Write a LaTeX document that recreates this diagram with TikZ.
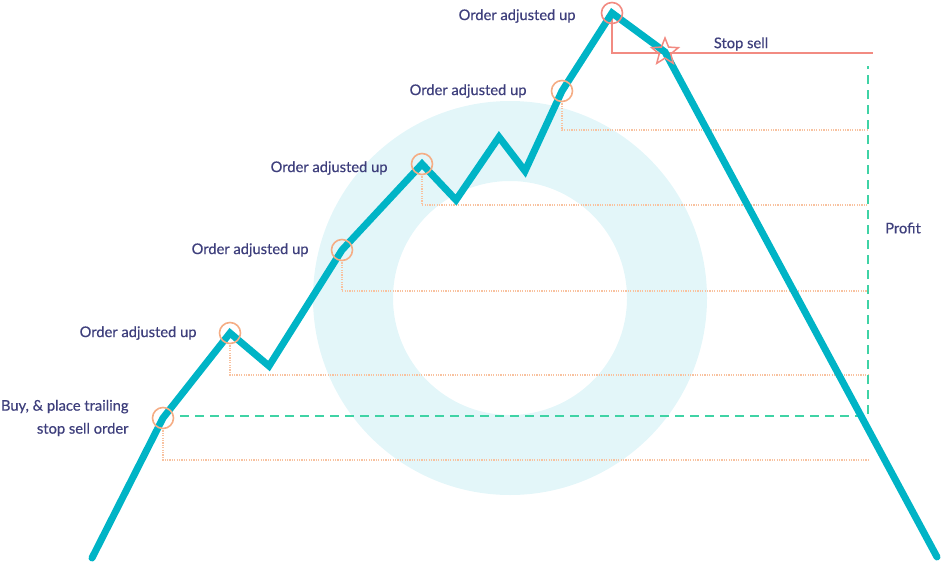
\documentclass[tikz,border=0pt]{standalone}
\usepackage{fontspec}
\setmainfont{Lato}
\newfontfamily\labelfont{Lato}[BoldFont=Lato, BoldFeatures={FakeBold=0.5}]
\usetikzlibrary{positioning}
\usetikzlibrary{shapes.geometric}

\definecolor{pricecol}{HTML}{00B4C6}
\definecolor{ringcol}{HTML}{E3F6F9}
\definecolor{ink}{HTML}{3E3F7C}
\definecolor{markcol}{HTML}{F5AD85}
\definecolor{stopcol}{HTML}{F28B82}
\definecolor{guidecol}{HTML}{F8C2A0}
\definecolor{profitcol}{HTML}{3FD3A5}

\begin{document}
\begin{tikzpicture}[x=1pt, y=-1pt,
    txt/.style={text=ink, font=\labelfont\bfseries\fontsize{14.7}{23}\selectfont, inner sep=0pt},
    marker/.style={circle, draw=markcol, line width=1.6pt, minimum size=21pt, inner sep=0pt},
    guide/.style={draw=guidecol, line width=2.2pt, dash pattern=on 1.2pt off 1.2pt},
    price/.style={draw=pricecol, line width=7pt, line join=miter, line cap=round}
]
    \useasboundingbox (0,0) rectangle (942,565);

    % ring behind the chart
    \fill [ringcol, even odd rule] (510,298) circle (197pt) (510,298) circle (117pt);

    % price path
    \coordinate (start) at (92,558);
    \coordinate (buy) at (163,418);
    \coordinate (up1) at (230,333);
    \coordinate (dip1) at (269,366);
    \coordinate (up2) at (342,250);
    \coordinate (up3) at (422,164);
    \coordinate (dip2) at (456,200);
    \coordinate (top1) at (499,137);
    \coordinate (dip3) at (525,171);
    \coordinate (up4) at (562,91);
    \coordinate (peak) at (612,13);
    \coordinate (stop) at (665,52);
    \coordinate (finish) at (937,557);

    % ends of the level lines
    \coordinate (buyline) at (180,416);
    \coordinate (profittop) at (868,66);
    \coordinate (stopend) at (873,53);
    \coordinate (g0) at (868,460);
    \coordinate (g1) at (868,375);
    \coordinate (g2) at (868,291);
    \coordinate (g3) at (868,205);
    \coordinate (g4) at (868,130);

    \draw [guide] (buy) ++(0,10) |- (g0);
    \draw [guide] (up1) ++(0,10) |- (g1);
    \draw [guide] (up2) ++(0,10) |- (g2);
    \draw [guide] (up3) ++(0,10) |- (g3);
    \draw [guide] (up4) ++(0,10) |- (g4);

    \draw [profitcol, line width=2pt, dash pattern=on 9pt off 6pt] (buyline) -| (profittop);
    \draw [stopcol, line width=1.6pt] (peak) |- (stopend);

    \draw [price] (start) -- (buy) -- (up1) -- (dip1) -- (up2) -- (up3) -- (dip2)
        -- (top1) -- (dip3) -- (up4) -- (peak) -- (stop) -- (finish);

    % markers
    \node (buymark) [marker] at (buy) {};
    \node (mark1) [marker] at (up1) {};
    \node (mark2) [marker] at (up2) {};
    \node (mark3) [marker] at (up3) {};
    \node (mark4) [marker] at (up4) {};
    \node (peakmark) [marker, draw=stopcol] at (peak) {};
    \node (stopstar) [star, star points=5, star point ratio=2.3, minimum size=28pt, inner sep=0pt, draw=stopcol, line width=1.5pt] at (stop) {};

    % labels
    \node (buylabel) [txt, align=right, left=23pt of buymark] {Buy, \& place trailing\\stop sell order};
    \node (label1) [txt, left=22pt of mark1] {Order adjusted up};
    \node (label2) [txt, left=22pt of mark2] {Order adjusted up};
    \node (label3) [txt, left=23pt of mark3, yshift=-4pt] {Order adjusted up};
    \node (label4) [txt, left=24pt of mark4] {Order adjusted up};
    \node (label5) [txt, left=25pt of peakmark, yshift=-3pt] {Order adjusted up};
    \node (stoplabel) [txt] at (741,44) {Stop sell};
    \node (profitlabel) [txt] at (903,228) {Profit};
\end{tikzpicture}
\end{document}
